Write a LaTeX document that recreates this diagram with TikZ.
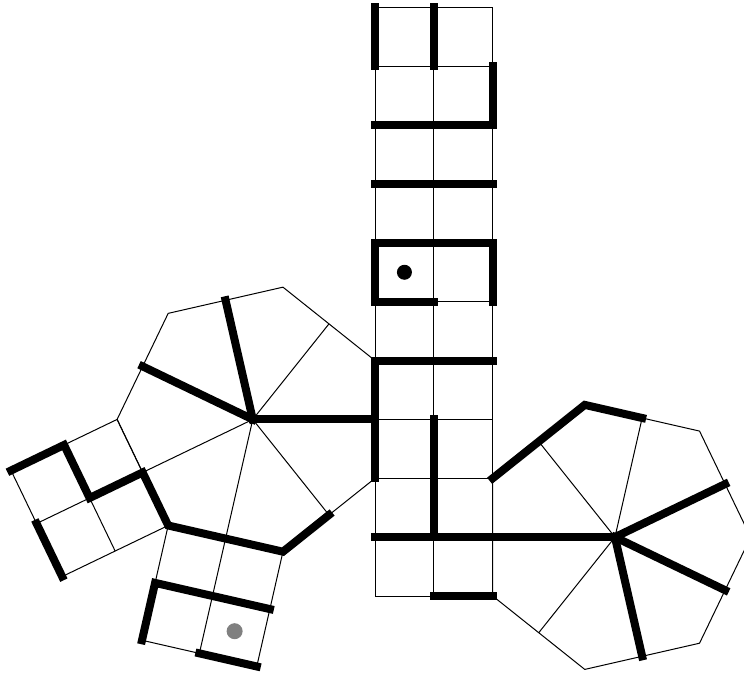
\documentclass[tikz,border=0pt]{standalone}
\usetikzlibrary{calc}
\definecolor{dotgray}{RGB}{128,128,128}
\begin{document}
\begin{tikzpicture}[x=1pt,y=-1pt,
  thinline/.style={line width=1pt,line join=miter},
  wall/.style={line width=8pt,line cap=rect,line join=miter},
  dot/.style={circle,fill=black,inner sep=0pt,minimum size=15pt},
  graydot/.style={circle,fill=dotgray,inner sep=0pt,minimum size=16pt}]
\useasboundingbox (0,0) rectangle (744,675);
\clip (0,0) rectangle (744,675);
\pgfmathsetmacro{\s}{58.86}
\pgfmathsetmacro{\R}{\s/sin(180/7)}
\pgfmathsetmacro{\A}{\s/tan(180/7)}
% column grid points
\foreach \k in {0,...,10}{
  \coordinate (G0-\k) at (375,{7.4+\s*\k});
  \coordinate (G1-\k) at ({375+\s},{7.4+\s*\k});
  \coordinate (G2-\k) at ({375+2*\s},{7.4+\s*\k});
}
\coordinate (C1) at ($(G0-7)+(-\A,0)$);
\coordinate (C2) at ($(G2-9)+(\A,0)$);
\foreach \k in {0,...,6}{
  \coordinate (LV\k) at ($(C1)+({-180/7-\k*360/7}:\R)$);
  \coordinate (LM\k) at ($(C1)+({-\k*360/7}:\A)$);
  \coordinate (RV\k) at ($(C2)+({-180+180/7+\k*360/7}:\R)$);
  \coordinate (RM\k) at ($(C2)+({-180+\k*360/7}:\A)$);
}
\foreach \i in {0,1,2}{
  \foreach \j in {0,1,2}{
    \coordinate (P\i\j) at ($(LV3)!\i*0.5!(LV4)+({-180-180/7}:{\j*\s})$);
    \coordinate (Q\i\j) at ($(LV4)!\i*0.5!(LV5)+({-180-540/7}:{\j*\s})$);
  }
}
% thin grid lines
\foreach \c in {0,1,2} \draw[thinline] (G\c-0) -- (G\c-10);
\foreach \k in {0,...,10} \draw[thinline] (G0-\k) -- (G2-\k);
\draw[thinline] (LV0)--(LV1)--(LV2)--(LV3)--(LV4)--(LV5)--(LV6)--cycle;
\draw[thinline] (RV0)--(RV1)--(RV2)--(RV3)--(RV4)--(RV5)--(RV6)--cycle;
\foreach \k in {0,...,6}{
  \draw[thinline] (C1)--(LM\k);
  \draw[thinline] (C2)--(RM\k);
}
\foreach \i in {0,1,2}{
  \draw[thinline] (P\i0)--(P\i2);
  \draw[thinline] (P0\i)--(P2\i);
  \draw[thinline] (Q\i0)--(Q\i2);
  \draw[thinline] (Q0\i)--(Q2\i);
}
% walls: column
\draw[wall] (G0-0)--(G0-1);
\draw[wall] (G1-0)--(G1-1);
\draw[wall] (G0-2)--(G2-2)--(G2-1);
\draw[wall] (G0-3)--(G2-3);
\draw[wall] (G1-5)--(G0-5)--(G0-4)--(G2-4)--(G2-5);
\draw[wall] (G2-6)--(G0-6)--(G0-8);
\draw[wall] (G1-7)--(G1-9);
\draw[wall] (G0-9)--(C2);
\draw[wall] (G1-10)--(G2-10);
% walls: left heptagon and its squares
\draw[wall] (C1)--(LM0);
\draw[wall] (C1)--(LM2);
\draw[wall] (C1)--(LM3);
\draw[wall] (P02)--(P01)--(P11)--(LM4)--(LV4)--(LV5)--(LM6);
\draw[wall] (P12)--(P22);
\draw[wall] (Q02)--(Q01)--(Q21);
\draw[wall] (Q12)--(Q22);
% walls: right heptagon
\draw[wall] (RV0)--(RV1)--(RM2);
\draw[wall] (C2)--(RM3);
\draw[wall] (C2)--(RM4);
\draw[wall] (C2)--(RM5);
% markers
\node[dot] (start) at ($(G0-4)!0.5!(G1-5)$) {};
\node[graydot] (goal) at ($(Q11)!0.5!(Q22)$) {};
\end{tikzpicture}
\end{document}
